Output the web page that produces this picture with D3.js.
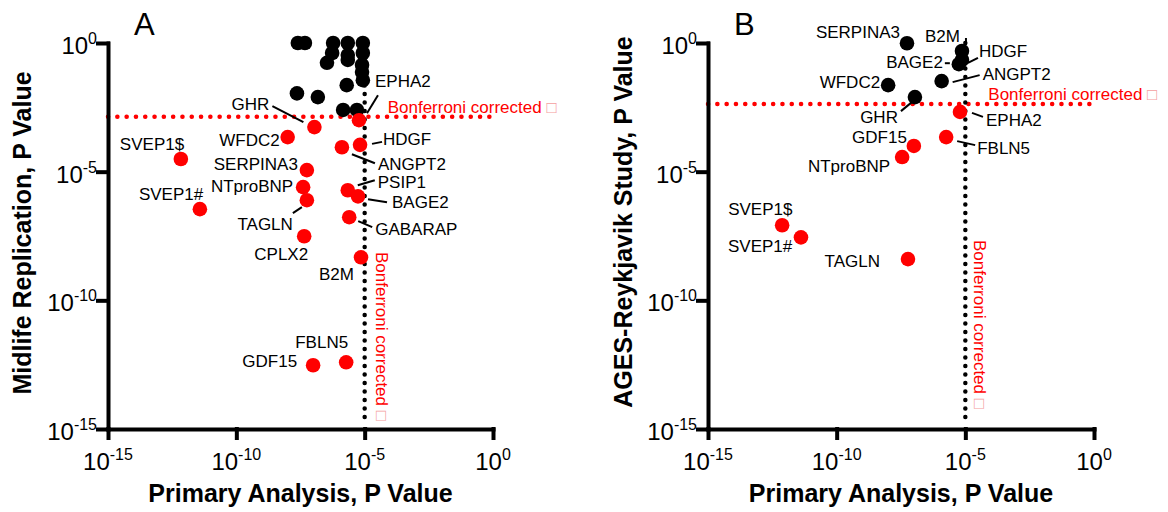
<!DOCTYPE html>
<html>
<head>
<meta charset="utf-8">
<script src="https://cdn.jsdelivr.net/npm/d3@7"></script>
<style>
  body { margin: 0; background: #fff; }
  svg { font-family: "Liberation Sans", Arial, sans-serif; }
</style>
</head>
<body>
<div class="chart"></div>
<script>
// Panel A: primary analysis vs midlife replication
const genesA = ['GHR','EPHA2','WFDC2','HDGF','ANGPT2','SVEP1$','SERPINA3','PSIP1','NTproBNP','BAGE2','SVEP1#','TAGLN','GABARAP','CPLX2','B2M','FBLN5','GDF15']
const primaryA = [1.1e-7,6.0e-6,1.0e-8,6.6e-6,1.3e-6,6.9e-13,5.6e-8,2.2e-6,4.0e-8,5.5e-6,3.8e-12,5.6e-8,2.5e-6,4.4e-8,7.2e-6,1.9e-6,9.8e-8]
const midlifeA = [5.4e-4,1.0e-3,2.2e-4,1.1e-4,8.9e-5,3.1e-5,1.15e-5,1.9e-6,2.5e-6,1.1e-6,3.5e-7,7.8e-7,1.7e-7,3.1e-8,4.7e-9,3.9e-13,3.0e-13]
// unlabelled proteins in panel A
const otherPrimaryA = [2.5e-8,4.7e-8,5.9e-7,2.2e-6,8.5e-6,5.4e-7,2.2e-6,8.5e-6,3.4e-7,2.2e-6,7.9e-6,7.9e-6,8.5e-6,2.0e-6,2.3e-8,1.5e-7,1.45e-6,5.0e-6]
const otherMidlifeA = [1,1,1,1,1,0.41,0.34,0.41,0.17,0.22,0.14,0.074,0.036,0.023,0.011,0.0079,0.0025,0.0025]

// Panel B: primary analysis vs AGES-Reykjavik
const genesB = ['SERPINA3','B2M','HDGF','BAGE2','ANGPT2','WFDC2','GHR','EPHA2','FBLN5','GDF15','NTproBNP','SVEP1$','SVEP1#','TAGLN']
const primaryB = [5.4e-8,7.4e-6,7.4e-6,5.6e-6,1.2e-6,1.0e-8,1.1e-7,6.2e-6,1.8e-6,1.0e-7,3.5e-8,7.6e-13,4.1e-12,5.9e-8]
const agesB = [0.98,0.49,0.22,0.15,0.033,0.023,0.0079,0.0021,2.2e-4,1.0e-4,3.7e-5,8.3e-8,2.8e-8,4.0e-9]

// bonferroni thresholds
const primaryCut = 1e-5
const replicationCutA = 1.35e-3
const replicationCutB = 4.3e-3

const tickExps = [-15,-10,-5,0]

// label placement (dx, dy, anchor, leader line) in px from the dot
const labelPosA = [
  [-45,-17,'end',[-42,-21,-11,-5]], [16,-33,'start',[19,-25,8,-7]], [-8,9,'end',null],
  [23,0,'start',[12,-1,22,-3]], [36,23,'start',[10,7,33,16]], [-61,-9,'start',null],
  [-9,0,'end',null], [30,-2,'start',[10,-5,27,-10]], [-10,5,'end',null],
  [34,12,'start',[10,3,29,6]], [-61,-9,'start',null], [-14,30,'end',[-14,13,-5,7]],
  [26,18,'start',[9,4,23,10]], [4,24,'end',null], [-7,23,'end',null],
  [2,-14,'end',null], [-16,2,'end',null]
]
const labelPosB = [
  [-7,-5,'end',null], [-2,-9,'end',[4,-13,4,-6]], [17,-3,'start',[6,3,16,-2]],
  [-16,4,'end',[-14,-1,-9,-1]], [41,-1,'start',[11,1,38,-6]], [-8,3,'end',null],
  [-17,26,'end',[-14,14,-3,5]], [26,14,'start',[12,1,23,5]], [31,17,'start',[11,4,29,8]],
  [-7,-3,'end',null], [-12,15,'end',null], [-54,-10,'start',null],
  [-73,15,'start',null], [-28,8,'end',null]
]

const svg = d3.select(".chart").append("svg")
  .attr("width", 1168)
  .attr("height", 512)

svg.append("rect").attr("width", 1168).attr("height", 512).attr("fill", "#fff")

function drawPanel(cfg) {
  const x = d3.scaleLog().domain([1e-15, 1]).range([cfg.x0, cfg.x1])
  const y = d3.scaleLog().domain([1e-15, 1]).range([429, 43])
  const g = svg.append("g")

  // threshold lines
  g.append("line")
    .attr("x1", x.range()[0]).attr("x2", x.range()[1] + 3)
    .attr("y1", y(cfg.cut)).attr("y2", y(cfg.cut))
    .attr("stroke", "#f00").attr("stroke-width", 4.5)
    .attr("stroke-linecap", "round").attr("stroke-dasharray", "0.1 9.2")
  g.append("line")
    .attr("x1", x(primaryCut)).attr("x2", x(primaryCut))
    .attr("y1", y(1)).attr("y2", y(1e-15) - 4)
    .attr("stroke", "#000").attr("stroke-width", 4.5)
    .attr("stroke-linecap", "round").attr("stroke-dasharray", "0.1 8.4")

  const hText = g.append("text")
    .attr("x", x(primaryCut) + 23).attr("y", y(cfg.cut) - 4)
    .attr("font-size", 17).attr("fill", "#f00")
    .text("Bonferroni corrected ")
  hText.append("tspan").attr("fill", "#f4a0a0").text("\u25A1")
  const vText = g.append("text")
    .attr("transform", `translate(${x(primaryCut) + cfg.vdx},${cfg.vy}) rotate(90)`)
    .attr("font-size", 17).attr("fill", "#f00")
    .text("Bonferroni corrected ")
  vText.append("tspan").attr("fill", "#f4a0a0").text("\u25A1")

  // axes
  const xAxis = d3.axisBottom(x).tickValues(tickExps.map(e => Math.pow(10, e)))
    .tickFormat(() => "").tickSize(9).tickSizeOuter(0)
  const yAxis = d3.axisLeft(y).tickValues(tickExps.map(e => Math.pow(10, e)))
    .tickFormat(() => "").tickSize(10).tickSizeOuter(0)
  g.append("g").attr("transform", "translate(0,429)").call(xAxis)
  g.append("g").attr("transform", `translate(${cfg.x0},0)`).call(yAxis)
  g.selectAll(".domain, .tick line")
    .attr("stroke", "#000").attr("stroke-width", 4).attr("stroke-linecap", "square")

  tickExps.forEach(e => {
    const t = g.append("text")
      .attr("x", x(Math.pow(10, e))).attr("y", 470)
      .attr("text-anchor", "middle").attr("font-size", 24)
    t.append("tspan").text("10")
    t.append("tspan").attr("dy", -10).attr("font-size", 16).text(e)
    const s = g.append("text")
      .attr("x", cfg.x0 - 11).attr("y", y(Math.pow(10, e)) + 11)
      .attr("text-anchor", "end").attr("font-size", 24)
    s.append("tspan").text("10")
    s.append("tspan").attr("dy", -10).attr("font-size", 16).text(e)
  })

  g.append("text")
    .attr("x", (cfg.x0 + cfg.x1) / 2).attr("y", 502)
    .attr("text-anchor", "middle").attr("font-size", 25).attr("font-weight", "bold")
    .text("Primary Analysis, P Value")
  g.append("text")
    .attr("transform", `translate(${cfg.titleX},${cfg.titleY}) rotate(-90)`)
    .attr("text-anchor", "middle").attr("font-size", 25).attr("font-weight", "bold")
    .text(cfg.yTitle)
  g.append("text")
    .attr("x", cfg.x0 + 26).attr("y", 35)
    .attr("font-size", 31)
    .text(cfg.letter)

  // points
  const pts = cfg.names.map((n, i) => ({ name: n, px: cfg.px[i], py: cfg.py[i], lab: cfg.labels[i] }))
  const others = (cfg.otherX || []).map((v, i) => ({ px: v, py: cfg.otherY[i] }))

  g.selectAll(".lead")
    .data(pts.filter(d => d.lab[3]))
    .enter()
    .append("line")
    .attr("x1", d => x(d.px) + d.lab[3][0]).attr("y1", d => y(d.py) + d.lab[3][1])
    .attr("x2", d => x(d.px) + d.lab[3][2]).attr("y2", d => y(d.py) + d.lab[3][3])
    .attr("stroke", "#000").attr("stroke-width", 2)

  g.selectAll(".other")
    .data(others)
    .enter()
    .append("circle")
    .attr("cx", d => x(d.px)).attr("cy", d => y(d.py))
    .attr("r", 7.3).attr("fill", "#000")

  g.selectAll(".pt")
    .data(pts)
    .enter()
    .append("circle")
    .attr("cx", d => x(d.px)).attr("cy", d => y(d.py))
    .attr("r", 7.3).attr("fill", d => d.py < cfg.cut ? "#f00" : "#000")

  g.selectAll(".lbl")
    .data(pts)
    .enter()
    .append("text")
    .attr("x", d => x(d.px) + d.lab[0]).attr("y", d => y(d.py) + d.lab[1])
    .attr("text-anchor", d => d.lab[2])
    .attr("font-size", 17)
    .text(d => d.name)
}

drawPanel({
  letter: "A", x0: 108, x1: 493, cut: replicationCutA,
  names: genesA, px: primaryA, py: midlifeA, labels: labelPosA,
  otherX: otherPrimaryA, otherY: otherMidlifeA,
  yTitle: "Midlife Replication, P Value", titleX: 31, titleY: 233,
  vdx: 11, vy: 252
})
drawPanel({
  letter: "B", x0: 708, x1: 1094, cut: replicationCutB,
  names: genesB, px: primaryB, py: agesB, labels: labelPosB,
  yTitle: "AGES-Reykjavik Study, P Value", titleX: 632, titleY: 222,
  vdx: 9, vy: 240
})
</script>
</body>
</html>
